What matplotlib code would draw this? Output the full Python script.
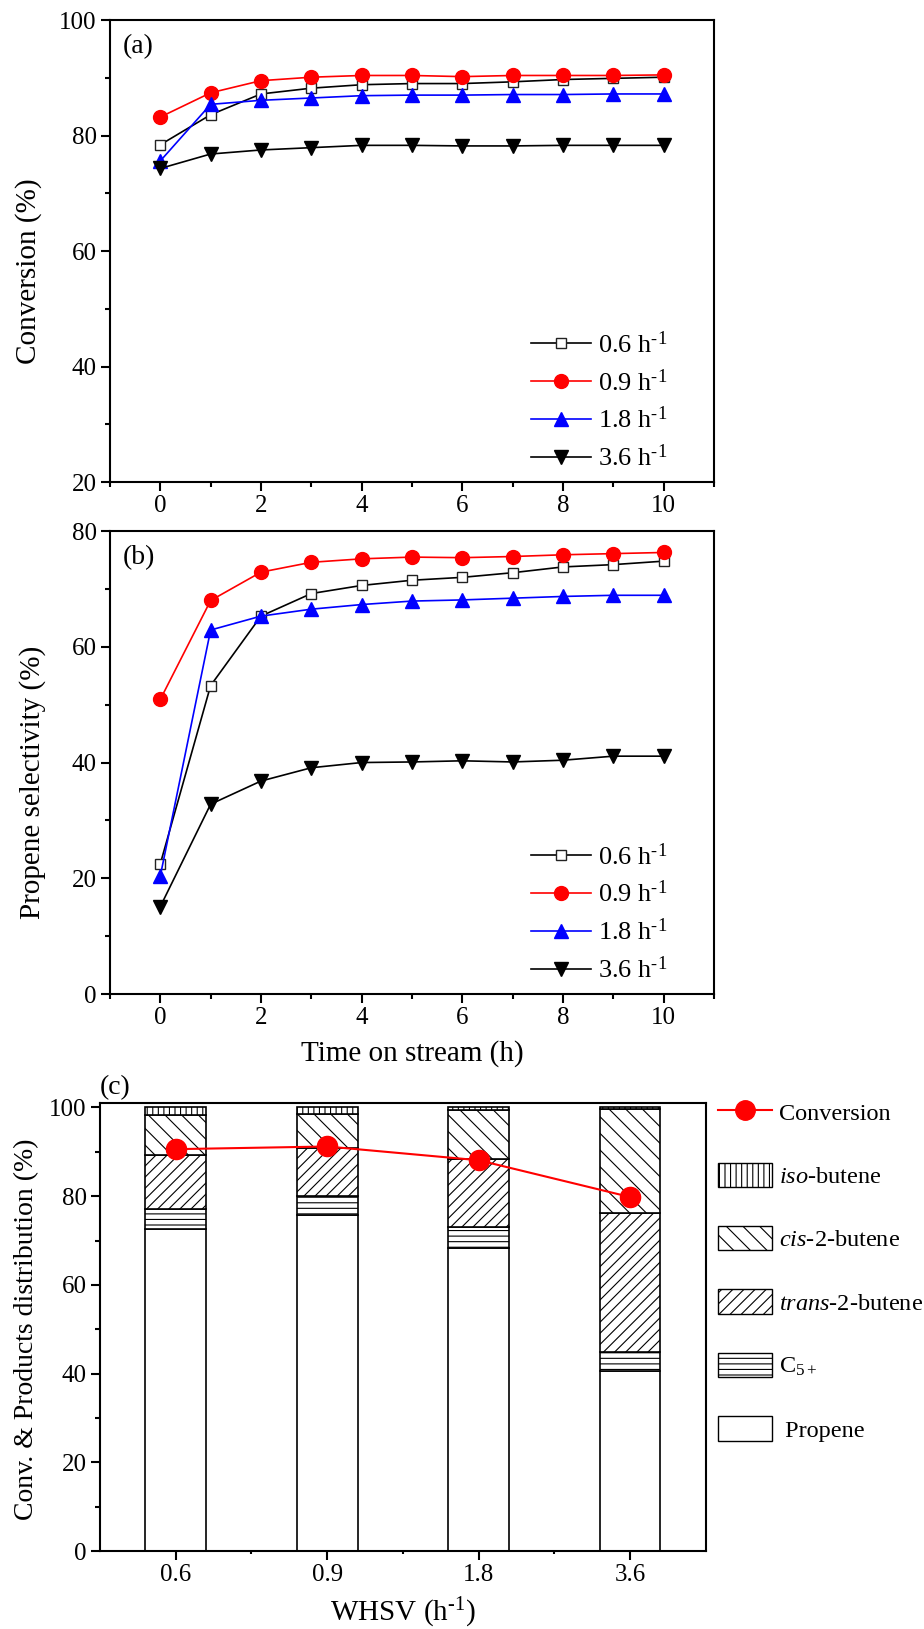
import numpy as np
import matplotlib
matplotlib.use('Agg')
import matplotlib.pyplot as plt
from matplotlib.ticker import MultipleLocator, FixedLocator
from matplotlib.lines import Line2D
from matplotlib.patches import Patch

plt.rcParams['font.family'] = ['Liberation Serif', 'DejaVu Serif']
plt.rcParams['mathtext.fontset'] = 'custom'
plt.rcParams['mathtext.rm'] = 'Liberation Serif'
plt.rcParams['mathtext.it'] = 'Liberation Serif:italic'
plt.rcParams['hatch.linewidth'] = 0.8

### data, panel (a) conversion and (b) propene selectivity vs time on stream
time_h = list(range(11))
whsv = ['0.6', '0.9', '1.8', '3.6']

conv_06 = [78.4, 83.6, 87.2, 88.2, 88.8, 89.0, 89.0, 89.3, 89.7, 89.9, 90.1]
conv_09 = [83.2, 87.4, 89.5, 90.1, 90.4, 90.4, 90.2, 90.4, 90.4, 90.4, 90.5]
conv_18 = [75.6, 85.4, 86.1, 86.5, 86.9, 87.0, 87.0, 87.1, 87.1, 87.2, 87.2]
conv_36 = [74.3, 76.8, 77.5, 77.9, 78.3, 78.3, 78.2, 78.2, 78.3, 78.3, 78.3]

sel_06 = [22.5, 53.3, 65.3, 69.2, 70.6, 71.5, 72.0, 72.8, 73.8, 74.2, 74.8]
sel_09 = [50.9, 68.0, 72.9, 74.6, 75.2, 75.5, 75.4, 75.6, 75.9, 76.1, 76.3]
sel_18 = [20.4, 62.9, 65.3, 66.5, 67.3, 67.9, 68.1, 68.4, 68.7, 68.9, 68.9]
sel_36 = [15.1, 32.8, 36.8, 39.1, 40.0, 40.1, 40.3, 40.1, 40.4, 41.1, 41.1]

### data, panel (c) product distribution per WHSV
propene = [72.6, 75.8, 68.4, 40.6]
c5plus = [4.4, 4.2, 4.7, 4.3]
trans2 = [12.3, 10.8, 15.2, 31.4]
cis2 = [9.0, 7.7, 11.1, 23.3]
isobut = [1.7, 1.5, 0.6, 0.4]
conv_c = [90.6, 91.2, 88.1, 79.8]

# short hyphen in the superscript, like the original
inv_h = 'h$^{\\mathregular{\u20101}}$'
series_labels = [w + ' ' + inv_h for w in whsv]

fig = plt.figure(figsize=(9.24, 16.29), dpi=100)
ax_a = fig.add_axes([0.1190, 0.7041, 0.6537, 0.2836])
ax_b = fig.add_axes([0.1190, 0.3898, 0.6537, 0.2842])
ax_c = fig.add_axes([0.1082, 0.04788, 0.6558, 0.2750])

def style_axis(ax):
    for sp in ax.spines.values():
        sp.set_linewidth(1.5)
    ax.tick_params(which='major', direction='out', length=6.5, width=1.5,
                   labelsize=18, pad=3, top=False, right=False)
    ax.tick_params(which='minor', direction='out', length=3.5, width=1.5,
                   top=False, right=False)

def line_panel(ax, ys):
    ax.plot(time_h, ys[0], color='black', lw=1.2, marker='s', ms=7.5,
            mfc='white', mec='#222222', mew=1.0, label=series_labels[0])
    ax.plot(time_h, ys[1], color='red', lw=1.2, marker='o', ms=10,
            mfc='red', mec='red', label=series_labels[1])
    ax.plot(time_h, ys[2], color='blue', lw=1.2, marker='^', ms=10.5,
            mfc='blue', mec='blue', label=series_labels[2])
    ax.plot(time_h, ys[3], color='black', lw=1.2, marker='v', ms=10.5,
            mfc='black', mec='black', label=series_labels[3])
    ax.set_xlim(-1, 11)
    ax.xaxis.set_major_locator(MultipleLocator(2))
    ax.xaxis.set_minor_locator(MultipleLocator(1))
    ax.yaxis.set_minor_locator(MultipleLocator(10))
    style_axis(ax)
    ax.legend(loc='center left', bbox_to_anchor=(0.6965, 0.175), frameon=False,
              fontsize=19, handlelength=2.3, handletextpad=0.25,
              labelspacing=0.43, borderpad=0, borderaxespad=0)

### (a)
line_panel(ax_a, [conv_06, conv_09, conv_18, conv_36])
ax_a.set_ylim(20, 100)
ax_a.yaxis.set_major_locator(MultipleLocator(20))
ax_a.set_ylabel('Conversion (%)', fontsize=21, va='center')
ax_a.yaxis.set_label_coords(-0.134, 0.456)
ax_a.text(0.0215, 0.9416, '(a)', transform=ax_a.transAxes, fontsize=20,
          ha='left', va='center')

### (b)
line_panel(ax_b, [sel_06, sel_09, sel_18, sel_36])
ax_b.set_ylim(0, 80)
ax_b.yaxis.set_major_locator(MultipleLocator(20))
ax_b.set_ylabel('Propene selectivity (%)', fontsize=21, va='center')
ax_b.yaxis.set_label_coords(-0.129, 0.458)
ax_b.set_xlabel('Time on stream (h)', fontsize=21, va='center')
ax_b.xaxis.set_label_coords(0.5, -0.128)
ax_b.text(0.0215, 0.9416, '(b)', transform=ax_b.transAxes, fontsize=20,
          ha='left', va='center')

### (c) stacked bars
x = np.arange(len(whsv))
w = 0.4
bottom = np.zeros(len(whsv))
layers = [
    (propene, '', ' Propene'),
    (c5plus, '---', r'C$_{\mathregular{5+}}$'),
    (trans2, '///', r'$\mathit{trans}$-2-butene'),
    (cis2, '\\\\', r'$\mathit{cis}$-2-butene'),
    (isobut, '|||', r'$\mathit{iso}$-butene'),
]
for vals, hatch, lab in layers:
    ax_c.bar(x, vals, w, bottom=bottom, color='white', edgecolor='black',
             linewidth=1.2, hatch=hatch, zorder=2)
    bottom += np.array(vals)
ax_c.plot(x, conv_c, color='red', lw=1.5, marker='o', ms=14.5, zorder=5)

ax_c.set_xlim(-0.5, 3.5)
ax_c.set_ylim(0, 101)
ax_c.xaxis.set_major_locator(FixedLocator(x))
ax_c.set_xticklabels(whsv)
ax_c.xaxis.set_minor_locator(FixedLocator([0.5, 1.5, 2.5]))
ax_c.yaxis.set_major_locator(MultipleLocator(20))
ax_c.yaxis.set_minor_locator(MultipleLocator(10))
style_axis(ax_c)
ax_c.tick_params(axis='x', which='minor', length=2)
ax_c.set_ylabel('Conv. & Products distribution (%)', fontsize=20, va='center')
ax_c.yaxis.set_label_coords(-0.121, 0.496)
ax_c.set_xlabel('WHSV (' + inv_h + ')', fontsize=21, va='center')
ax_c.xaxis.set_label_coords(0.5, -0.138)
ax_c.text(0.0, 1.0335, '(c)', transform=ax_c.transAxes, fontsize=20,
          ha='left', va='center')

handles = [Line2D([0], [0], color='red', lw=1.5, marker='o', ms=14)]
labels = ['Conversion']
for vals, hatch, lab in layers[::-1]:
    handles.append(Patch(facecolor='white', edgecolor='black', hatch=hatch, lw=1.0))
    labels.append(lab)
ax_c.legend(handles, labels, loc='center left', bbox_to_anchor=(1.0195, 0.626),
            frameon=False, fontsize=17.5, handlelength=2.25, handleheight=1.17,
            handletextpad=0.25, labelspacing=1.56, borderpad=0, borderaxespad=0)

fig.savefig('out.png', dpi=100)
